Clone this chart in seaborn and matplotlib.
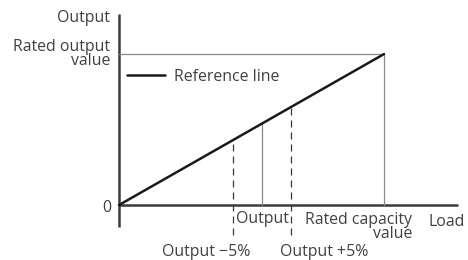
import matplotlib
matplotlib.use("Agg")
import matplotlib.pyplot as plt
import seaborn as sns
import pandas as pd

# data (load / output in % of rated)
ref_load = [0, 100]
ref_output = [0, 100]
rated_capacity = 100
rated_output = 100
output_load = 54
output_minus_load = 43
output_plus_load = 65

sns.set_theme(style="white")
plt.rcParams['font.family'] = ['Open Sans', 'DejaVu Sans']

fig = plt.figure(figsize=(4.68, 2.60), dpi=100)
ax = fig.add_axes([0, 0, 1, 1])
ax.set_xlim(-44.9, 131.7)
ax.set_ylim(-36.4, 135.8)
ax.axis("off")

tc = "#404040"
axc = "#3a3a3a"
thin = "#8a8a8a"
fs = 11.4

# axes
ax.plot([0, 0], [-14.6, 126.5], color=axc, lw=1.8, solid_capstyle="butt")
ax.plot([0, 128], [0, 0], color=axc, lw=1.8, solid_capstyle="butt")

# rated lines
ax.plot([0, rated_capacity], [rated_output, rated_output], color=thin, lw=0.9)
ax.plot([rated_capacity, rated_capacity], [0, rated_output], color=thin, lw=0.9)

# output vertical
ax.plot([output_load, output_load], [0, output_load], color=thin, lw=0.9)

# dashed lines
for xv in (output_minus_load, output_plus_load):
    ax.plot([xv, xv], [-20, xv], color=axc, lw=0.9, dashes=(5.6, 4))

# reference line
df = pd.DataFrame({"load": ref_load, "output": ref_output})
sns.lineplot(data=df, x="load", y="output", ax=ax, color="#1a1a1a", lw=1.8)

# legend
ax.plot([3, 17.4], [86.1, 86.1], color="#1a1a1a", lw=1.8)
ax.text(20.8, 82.2, "Reference line", fontsize=fs, color=tc, va="baseline", ha="left")

# labels
kw = dict(fontsize=fs, color=tc, va="baseline")
ax.text(-3.4, 121.4, "Output", ha="right", **kw)
ax.text(-3.4, 92.7, "Rated output\nvalue", ha="right", linespacing=0.8, **kw)
ax.text(-2.8, -4.6, "0", ha="right", **kw)
ax.text(130.5, -13.9, "Load", ha="right", **kw)
ax.text(output_load, -11.9, "Output", ha="center", **kw)
ax.text(110.6, -21.9, "Rated capacity\nvalue", ha="right", linespacing=0.88, **kw)
ax.text(32.8, -33.5, "Output \u22125%", ha="center", **kw)
ax.text(77.4, -33.5, "Output +5%", ha="center", **kw)

fig.savefig("out.png", dpi=100)
